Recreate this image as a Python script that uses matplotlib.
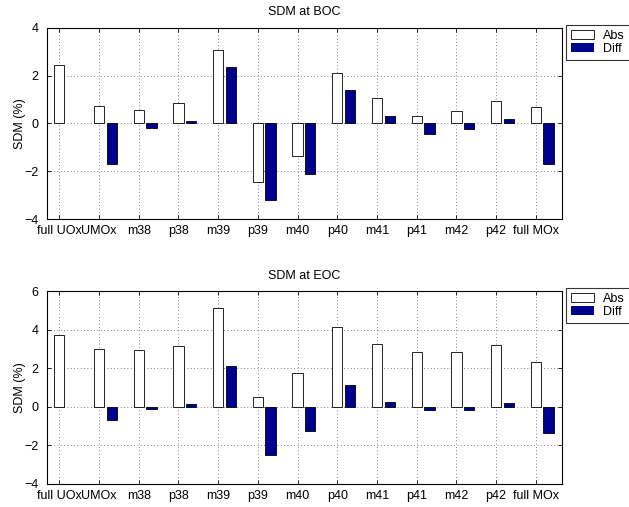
import matplotlib
matplotlib.use("Agg")
import matplotlib.pyplot as plt
import numpy as np

categories = ["full UOx", "UMOx", "m38", "p38", "m39", "p39", "m40", "p40",
              "m41", "p41", "m42", "p42", "full MOx"]
boc_abs = [2.43, 0.73, 0.58, 0.86, 3.08, -2.46, -1.37, 2.12, 1.06, 0.32, 0.52, 0.94, 0.70]
boc_diff = [0.0, -1.68, -0.18, 0.12, 2.34, -3.20, -2.12, 1.39, 0.32, -0.43, -0.22, 0.19, -1.71]
eoc_abs = [3.74, 3.01, 2.92, 3.15, 5.13, 0.51, 1.74, 4.15, 3.25, 2.84, 2.85, 3.21, 2.34]
eoc_diff = [0.0, -0.70, -0.10, 0.14, 2.10, -2.51, -1.28, 1.15, 0.24, -0.19, -0.19, 0.21, -1.38]
boc_yticks = [-4, -2, 0, 2, 4]
eoc_yticks = [-4, -2, 0, 2, 4, 6]

plt.rcParams['font.family'] = ['Liberation Sans', 'DejaVu Sans']
plt.rcParams['font.size'] = 9

fig = plt.figure(figsize=(6.29, 5.07), dpi=100)
navy = (0.0, 0.0, 0.56)

def draw(ax, absv, diffv, yticks, title):
    x = np.arange(1, len(categories) + 1)
    w = 0.26
    b1 = ax.bar(x, absv, width=w, color='white', edgecolor='black', linewidth=0.6, label='Abs', zorder=3)
    b2 = ax.bar(x + 0.32, diffv, width=w, color=navy, edgecolor='black', linewidth=0.6, label='Diff', zorder=3)
    for bars in (b1, b2):
        for p in bars:
            if p.get_height() == 0:
                p.set_edgecolor('none')
    ax.set_xlim(0.69, 13.66)
    ax.set_ylim(yticks[0], yticks[-1])
    ax.set_xticks(x)
    ax.set_xticklabels(categories)
    ax.set_yticks(yticks)
    ax.set_yticklabels([str(t).replace('-', '\u2212') for t in yticks])
    ax.grid(True, linestyle=(0, (1, 3)), color='0.35', linewidth=0.6, zorder=0)
    ax.tick_params(direction='in', top=True, right=True, length=3, width=0.6, pad=4)
    ax.tick_params(axis='y', pad=6)
    for s in ax.spines.values():
        s.set_linewidth(0.8)
    ax.set_title(title, fontsize=9, pad=9)
    ax.set_ylabel('SDM (%)', fontsize=9, labelpad=-1)
    leg = ax.legend(loc='upper left', bbox_to_anchor=(1.008, 1.015), frameon=True, fancybox=False,
                    edgecolor='black', borderpad=0.4, handlelength=1.85, handleheight=0.75,
                    handletextpad=0.7, labelspacing=0.05, borderaxespad=0.0)
    leg.get_frame().set_linewidth(0.8)

ax1 = fig.add_axes([0.0747, 0.568, 0.8188, 0.3772])
draw(ax1, boc_abs, boc_diff, boc_yticks, 'SDM at BOC')
ax2 = fig.add_axes([0.0747, 0.0454, 0.8188, 0.3806])
draw(ax2, eoc_abs, eoc_diff, eoc_yticks, 'SDM at EOC')

fig.savefig('out.png', dpi=100)
